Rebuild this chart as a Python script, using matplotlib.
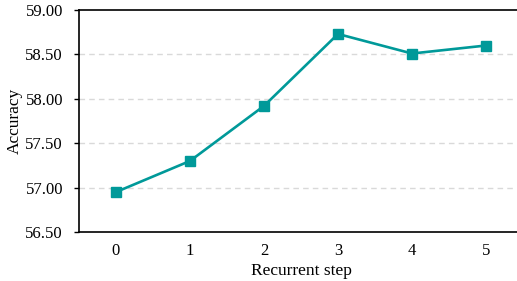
import matplotlib
matplotlib.use("Agg")
import matplotlib.pyplot as plt

steps = [0, 1, 2, 3, 4, 5]
accuracy = [56.95, 57.30, 57.92, 58.73, 58.51, 58.60]
yticks = [56.5, 57.0, 57.5, 58.0, 58.5, 59.0]

plt.rcParams['font.family'] = ['Liberation Serif', 'DejaVu Serif']

fig = plt.figure(figsize=(5.17, 2.81), dpi=100)
ax = fig.add_axes([79/517, 1 - 232/281, (523-79)/517, (232-10)/281])

ax.plot(steps, accuracy, color='#009999', linewidth=1.9, marker='s', markersize=6.8, zorder=3)

ax.set_xlim(-0.5, 5.5)
ax.set_ylim(56.5, 59.0)
ax.set_yticks(yticks)
ax.set_yticklabels([f"{v:.2f}" for v in yticks])
ax.set_xticks(steps)
ax.tick_params(axis='x', length=0, pad=8, labelsize=12)
ax.tick_params(axis='y', length=3.5, width=1, labelsize=12, pad=8)
for y in yticks[1:-1]:
    ax.axhline(y, color='#d9d9d9', linestyle=(0, (4, 3)), linewidth=1, zorder=1)
ax.spines['right'].set_visible(False)
for s in ['top', 'bottom', 'left']:
    ax.spines[s].set_linewidth(1.2)
ax.set_xlabel('Recurrent step', fontsize=12.5, labelpad=3)
ax.set_ylabel('Accuracy', fontsize=12.5, labelpad=2)

fig.savefig('out.png', dpi=100)
